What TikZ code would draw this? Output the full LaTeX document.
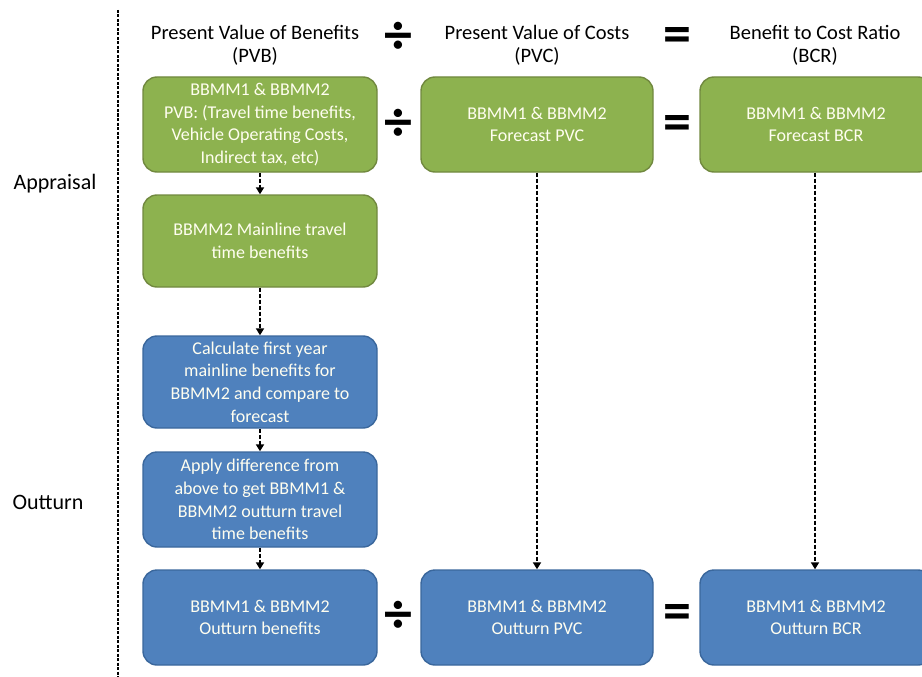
\documentclass[tikz,border=0pt]{standalone}
\usepackage{fontspec}
\setmainfont{Carlito}
\usetikzlibrary{arrows.meta}

\definecolor{boxgreen}{HTML}{8DB24F}
\definecolor{linegreen}{HTML}{71893F}
\definecolor{boxblue}{HTML}{4F81BD}
\definecolor{lineblue}{HTML}{3A679C}

\begin{document}
\begin{tikzpicture}[x=1pt, y=-1pt, >={Triangle[width=8pt,length=7pt]},
    box/.style={rounded corners=14pt, line width=1.4pt, align=center, text=white!94!yellow,
        font=\fontsize{18}{22.7}\selectfont, inner sep=0pt},
    greenbox/.style={box, fill=boxgreen, draw=linegreen},
    bluebox/.style={box, fill=boxblue, draw=lineblue},
    head/.style={align=center, font=\fontsize{20.5}{23}\selectfont, text=black},
    sign/.style={font=\fontsize{56}{56}\selectfont\bfseries, inner sep=0pt},
    link/.style={->, dash pattern=on 4pt off 2pt, line width=1.8pt}]
    \useasboundingbox (0,0) rectangle (922,677);
    \clip (0,0) rectangle (922,677);

    % divider and phase labels
    \draw[dash pattern=on 3pt off 1.5pt, line width=1.8pt] (118,10) -- (118,677);
    \node[font=\fontsize{22}{24}\selectfont] (appr) at (55,184) {Appraisal};
    \node[font=\fontsize{22}{24}\selectfont] (outt) at (48,502) {Outturn};

    % column headings
    \node[head] (hpvb) at (255,45) {Present Value of Benefits\\(PVB)};
    \node[head] (hpvc) at (537,45) {Present Value of Costs\\(PVC)};
    \node[head] (hbcr) at (815,45) {Benefit to Cost Ratio\\(BCR)};

    % forecast row
    \node[greenbox, minimum width=234pt, minimum height=95pt] (pvb) at (260,124.5)
        {BBMM1 \& BBMM2\\PVB: (Travel time benefits,\\Vehicle Operating Costs,\\Indirect tax, etc)};
    \node[greenbox, minimum width=232pt, minimum height=95pt] (pvc) at (537,124.5)
        {BBMM1 \& BBMM2\\Forecast PVC};
    \node[greenbox, minimum width=232pt, minimum height=95pt] (bcr) at (816,124.5)
        {BBMM1 \& BBMM2\\Forecast BCR};

    % benefit chain
    \node[greenbox, minimum width=234pt, minimum height=92pt] (mtt) at (260,241)
        {BBMM2 Mainline travel\\time benefits};
    \node[bluebox, minimum width=234pt, minimum height=92pt] (calc) at (260,382)
        {Calculate first year\\mainline benefits for\\BBMM2 and compare to\\forecast};
    \node[bluebox, minimum width=234pt, minimum height=95pt] (diff) at (260,499.5)
        {Apply difference from\\above to get BBMM1 \&\\BBMM2 outturn travel\\time benefits};

    % outturn row
    \node[bluebox, minimum width=234pt, minimum height=95pt] (obe) at (260,617.5)
        {BBMM1 \& BBMM2\\Outturn benefits};
    \node[bluebox, minimum width=232pt, minimum height=95pt] (opvc) at (537,617.5)
        {BBMM1 \& BBMM2\\Outturn PVC};
    \node[bluebox, minimum width=232pt, minimum height=95pt] (obcr) at (816,617.5)
        {BBMM1 \& BBMM2\\Outturn BCR};

    % operators
    \foreach \y/\n in {38/a,125/b,617/c}
        \node[sign] (div\n) at (398,\y) {÷};
    \foreach \y/\n in {40/a,128/b,617/c}
        \node[sign] (eq\n) at (677,\y) {=};

    % connectors
    \draw[link] (pvb) -- (mtt);
    \draw[link] (mtt) -- (calc);
    \draw[link] (calc) -- (diff);
    \draw[link] (diff) -- (obe);
    \draw[link] (pvc) -- (opvc);
    \draw[link] (bcr.south -| 815,0) -- (obcr.north -| 815,0);
\end{tikzpicture}
\end{document}
